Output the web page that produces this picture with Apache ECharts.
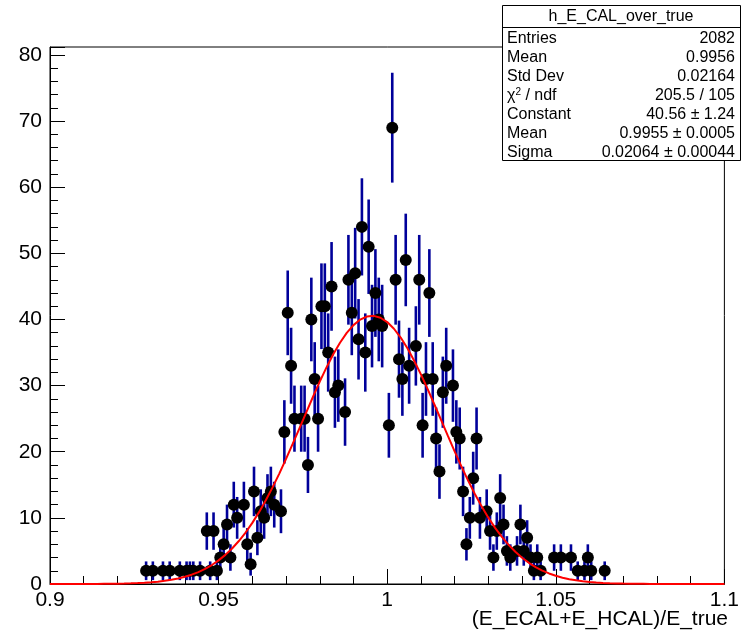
<!DOCTYPE html>
<html><head><meta charset="utf-8">
<script src="https://cdn.jsdelivr.net/npm/echarts@6/dist/echarts.min.js"></script>
<style>html,body{margin:0;padding:0;background:#fff}#c{width:742px;height:635px}</style>
</head><body><div id="c"></div>
<script>
// ---- data ----
const xMin = 0.9, xMax = 1.1, binWidth = 0.001;
const bins = [28,30,33,35,38,40,41,42,44,46,47,48,49,
  50,51,52,53,54,55,57,58,59,60,61,62,63,64,65,66,68,
  69,70,71,72,74,75,76,77,78,79,80,81,82,83,84,85,87,88,89,90,91,92,93,94,95,96,97,98,100,101,
  102,103,104,105,106,108,109,110,111,112,113,114,115,116,117,
  119,120,121,122,123,124,125,126,127,129,130,131,132,133,134,135,136,138,139,140,141,142,143,144,145,
  149,151,154,156,158,159,160,164];
const counts = [2,2,2,2,2,2,2,2,2,8,2,8,2,
  4,6,9,4,12,10,12,6,3,14,7,11,10,13,14,12,11,
  23,41,33,25,25,25,18,40,31,25,42,42,35,45,29,30,26,46,41,47,37,54,35,51,39,44,40,39,24,69,
  46,34,31,49,33,36,46,24,31,44,31,22,17,29,33,
  30,23,22,14,6,10,16,22,10,11,8,4,8,13,9,5,4,5,9,5,7,4,2,4,2,
  4,4,4,2,2,4,2,2];
const xTickLabels = ['0.9','0.95','1','1.05','1.1'];
const yTickLabels = ['0','10','20','30','40','50','60','70','80'];
const yMax = 81.2;
const fitConstant = 40.56, fitMean = 0.9955, fitSigma = 0.02064, fitNpx = 100;
const xTitle = '(E_ECAL+E_HCAL)/E_true';
const statsTitle = 'h_E_CAL_over_true';
const statsNames = ['Entries','Mean','Std Dev','{c|χ}{s|2}{c| / ndf}','Constant','Mean','Sigma'];
const statsValues = ['2082','0.9956','0.02164','205.5 / 105','40.56 ± 1.24','0.9955 ± 0.0005','0.02064 ± 0.00044'];

// ---- build ----
const pts = bins.map((b,i)=>[xMin+(b+0.5)*binWidth, counts[i], Math.sqrt(counts[i])]);
const fit = [];
for (let k=0;k<=fitNpx;k++){ const x = xMin+(xMax-xMin)*k/fitNpx; fit.push([x, fitConstant*Math.exp(-0.5*Math.pow((x-fitMean)/fitSigma,2))]); }

const FONT = '"Liberation Sans", Arial, Helvetica, sans-serif';
const chart = echarts.init(document.getElementById('c'), null, {renderer:'canvas'});
const G = {left:50, right:14, top:47, bottom:51};
const boxX = 502, boxY = 5, boxW = 238, boxH = 155, rowH = 19;

const statsGraphics = [
  {type:'rect', shape:{x:boxX+0.5,y:boxY+0.5,width:boxW,height:boxH}, style:{fill:'#fff',stroke:'#000',lineWidth:1}, z:100},
  {type:'line', shape:{x1:boxX,y1:boxY+22.5,x2:boxX+boxW,y2:boxY+22.5}, style:{stroke:'#000',lineWidth:1}, z:101},
  {type:'text', x:boxX+boxW/2, y:boxY+12, style:{text:statsTitle, font:'16px '+FONT, fill:'#000', align:'center', verticalAlign:'middle'}, z:101}
];
statsNames.forEach((n,i)=>{
  const yy = boxY + 34 + i*rowH;
  statsGraphics.push({type:'text', x:boxX+5, y:yy, style:{text:n, font:'16px '+FONT, fill:'#000', align:'left', verticalAlign:'middle',
    rich:{c:{fontSize:16,fontFamily:FONT}, s:{fontSize:10,fontFamily:FONT,verticalAlign:'top',padding:[0,0,8,0]}}}, z:101});
  statsGraphics.push({type:'text', x:boxX+boxW-5, y:yy, style:{text:statsValues[i], font:'16px '+FONT, fill:'#000', align:'right', verticalAlign:'middle'}, z:101});
});

chart.setOption({
  animation:false,
  backgroundColor:'#fff',
  grid:{left:G.left, right:G.right, top:G.top, bottom:G.bottom, show:true, borderColor:'#000', borderWidth:1, backgroundColor:'transparent'},
  xAxis:{type:'value', min:xMin, max:xMax, interval:0.05,
    axisLine:{show:true,onZero:false,lineStyle:{color:'#000',width:1}},
    axisTick:{show:true,inside:true,length:15,lineStyle:{color:'#000'}},
    minorTick:{show:true,splitNumber:5,length:8,lineStyle:{color:'#000'}},
    splitLine:{show:false},
    axisLabel:{margin:6, color:'#000', fontSize:21, fontFamily:FONT,
      formatter:(v)=>{const i=Math.round((v-xMin)/0.05); return xTickLabels[i]!==undefined?xTickLabels[i]:'';}}
  },
  yAxis:{type:'value', min:0, max:yMax, interval:10,
    axisLine:{show:true,lineStyle:{color:'#000',width:1}},
    axisTick:{show:true,inside:true,length:15,lineStyle:{color:'#000'}},
    minorTick:{show:true,splitNumber:5,length:8,lineStyle:{color:'#000'}},
    splitLine:{show:false},
    axisLabel:{margin:8, color:'#000', fontSize:21, fontFamily:FONT, showMaxLabel:false,
      formatter:(v)=>{const i=Math.round(v/10); return (Math.abs(v-i*10)<1e-6 && yTickLabels[i]!==undefined)?yTickLabels[i]:'';}}
  },
  series:[
    {type:'custom', data:pts, clip:true, z:2,
      renderItem:(params, api)=>{
        const x=api.value(0), y=api.value(1), e=api.value(2);
        const a=api.coord([x,y+e]), b=api.coord([x,Math.max(0,y-e)]);
        return {type:'line', shape:{x1:a[0],y1:a[1],x2:b[0],y2:b[1]}, style:{stroke:'#00009a',lineWidth:2.6}};
      }},
    {type:'scatter', data:pts.map(p=>[p[0],p[1]]), symbol:'circle', symbolSize:12, itemStyle:{color:'#000',opacity:1}, z:3},
    {type:'line', data:fit, showSymbol:false, smooth:false, lineStyle:{color:'#ff0000',width:2}, z:4, clip:true}
  ],
  graphic:[
    {type:'text', right:14, top:609, style:{text:xTitle, font:'21px '+FONT, fill:'#000'}},
    ...statsGraphics
  ]
});
</script></body></html>
